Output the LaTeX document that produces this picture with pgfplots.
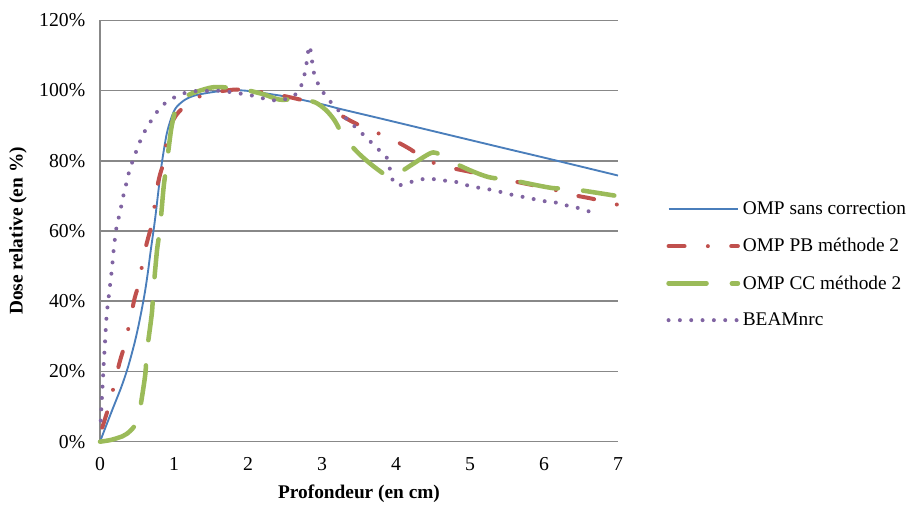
\documentclass[border=0pt]{standalone}
\usepackage{pgfplots}
\pgfplotsset{compat=1.18}
\usepackage{fontspec}
\setmainfont{Liberation Serif}
\definecolor{cblue}{HTML}{4A7EBB}
\definecolor{cred}{HTML}{C0504D}
\definecolor{cgreen}{HTML}{9BBB59}
\definecolor{cpurple}{HTML}{8064A2}
\definecolor{cgrid}{HTML}{888888}
\begin{document}
\begin{tikzpicture}
\begin{axis}[
  scale only axis, width=388.5pt, height=316pt,
  xmin=0, xmax=7, ymin=0, ymax=120,
  clip=false,
  axis x line*=bottom, axis y line*=left,
  x axis line style={-, cgrid, line width=1.1pt},
  y axis line style={-, cgrid, line width=1.1pt},
  ymajorgrids, grid style={cgrid, line width=1.1pt},
  major tick length=0pt, tick style={draw=none},
  xtick={0,1,2,3,4,5,6,7}, xticklabels={0,1,2,3,4,5,6,7},
  ytick={0,20,40,60,80,100,120},
  yticklabels={0\%,20\%,40\%,60\%,80\%,100\%,120\%},
  tick label style={font=\fontsize{14.8}{17}\selectfont},
  xticklabel style={anchor=center, yshift=-17pt},
  yticklabel style={anchor=east, xshift=-7.5pt},
  xlabel={Profondeur (en cm)}, ylabel={Dose relative (en \%)},
  label style={font=\fontsize{14.5}{17}\selectfont\bfseries},
  xlabel style={at={(axis description cs:0.5,0)}, anchor=center, yshift=-39pt},
  ylabel style={at={(axis description cs:0,0.5)}, anchor=center, yshift=61.5pt},
  legend style={draw=none, fill=none, at={(1.085,0.42)}, anchor=west,
    font=\fontsize{14.5}{17}\selectfont, row sep=12.3pt, cells={anchor=west}},
  legend image code/.code={\draw[#1] (0pt,0pt) -- (52pt,0pt);},
]
\addplot[cblue, line width=1.4pt, smooth] coordinates {
(0,0) (0.152,8.3) (0.287,15.5) (0.378,21.2) (0.468,28.2) (0.535,34.5) (0.603,42.1) (0.647,48.2) (0.684,54.2) (0.742,63) (0.787,71) (0.832,78.8) (0.9,87.5) (0.967,92.4) (1.03,95.2) (1.15,97.4) (1.3,98.7) (1.57,99.7) (1.8,100.1) (2.0,99.9) (2.3,99) (2.56,98.1) (3.0,96.1) (3.24,94.8) (3.78,92.1) (4.59,88) (5.5,83.4) (6,80.9) (7,75.8)};
\addlegendentry{OMP sans correction}
\addplot[cred, line width=3pt, line cap=round, dash pattern=on 12pt off 17.5pt on 0pt off 17.5pt, smooth] coordinates {
(0.03,4) (0.13,10.8) (0.2,17) (0.27,23) (0.34,28) (0.405,34.5) (0.47,41) (0.54,46) (0.58,52) (0.65,58) (0.72,63.5) (0.75,70) (0.81,76) (0.88,81) (0.91,87.7) (1.03,93) (1.21,96.7) (1.4,98.8) (1.6,99.7) (1.85,100.3) (2.1,99.8) (2.4,98.8) (2.65,97.7) (2.9,96.3) (3.17,93.9) (3.42,91) (3.66,88.7) (3.93,86.3) (4.2,83.2) (4.4,80.3) (4.7,78.2) (5.01,76.8) (5.26,75.3) (5.53,74.4) (6.09,72) (6.36,70.4) (6.65,69.2) (6.92,67.8) (7,67.5)};
\addlegendentry{OMP PB méthode 2}
\addplot[cgreen, line width=3.4pt, line cap=round, dash pattern=on 28.5pt off 19pt, smooth] coordinates {
(0,0) (0.15,0.5) (0.3,1.5) (0.36,2.2) (0.45,4) (0.52,7) (0.61,18.8) (0.63,25) (0.70,36.4) (0.72,42.6) (0.77,54.4) (0.81,60.6) (0.86,72.5) (0.9,78.7) (0.97,90) (1.06,96.7) (1.2,98.8) (1.4,100.3) (1.57,101) (1.89,100.5) (2.2,99) (2.43,97.4) (2.67,97.6) (2.9,96.7) (3.05,94.5) (3.17,91.5) (3.3,86.7) (3.5,82) (3.71,78.2) (3.9,75.5) (4.0,76) (4.2,78.7) (4.45,82) (4.55,82.2) (4.72,80.1) (5.0,77.3) (5.26,75.3) (5.53,74.6) (6.09,72.3) (6.36,72) (6.95,70.1)};
\addlegendentry{OMP CC méthode 2}
\addplot[cpurple, line width=3pt, line cap=round, dash pattern=on 0pt off 8.5pt, smooth] coordinates {
(0.01,6) (0.02,10) (0.03,14) (0.04,18) (0.05,22) (0.07,29) (0.09,36) (0.125,42.6) (0.16,49) (0.19,55.7) (0.23,62) (0.27,65) (0.3,68.7) (0.34,72) (0.37,75) (0.41,78) (0.46,81) (0.52,84.4) (0.58,87.4) (0.65,90) (0.74,93) (0.83,95.5) (0.95,97.4) (1.09,98.9) (1.24,99.8) (1.38,99.8) (1.53,100) (1.69,99.8) (1.83,99.3) (1.98,98.9) (2.13,98.2) (2.28,97.4) (2.43,97.2) (2.58,98.1) (2.69,99.9) (2.74,102.9) (2.78,106) (2.8,109.3) (2.83,112.8) (2.86,109.4) (2.88,106.1) (2.92,103.1) (3.0,100) (3.09,97.4) (3.19,95.1) (3.3,92.6) (3.41,90.4) (3.52,88.2) (3.63,86) (3.74,83.6) (3.86,81.5) (3.91,78.4) (3.94,75.3) (4.01,73) (4.16,73.7) (4.31,74.6) (4.46,74.9) (4.61,74.4) (4.77,74.2) (4.91,73.3) (5.07,72.5) (5.22,72) (5.36,71.4) (5.51,70.6) (5.66,69.9) (5.81,69.4) (5.96,68.5) (6.1,68.5) (6.24,67.5) (6.39,67) (6.54,66) (6.69,65.1)};
\addlegendentry{BEAMnrc}
\end{axis}
\pgfresetboundingbox
\path[use as bounding box] ([shift={(-75pt,-49pt)}]current axis.south west) rectangle ++(681pt,380.25pt);
\end{tikzpicture}
\end{document}
